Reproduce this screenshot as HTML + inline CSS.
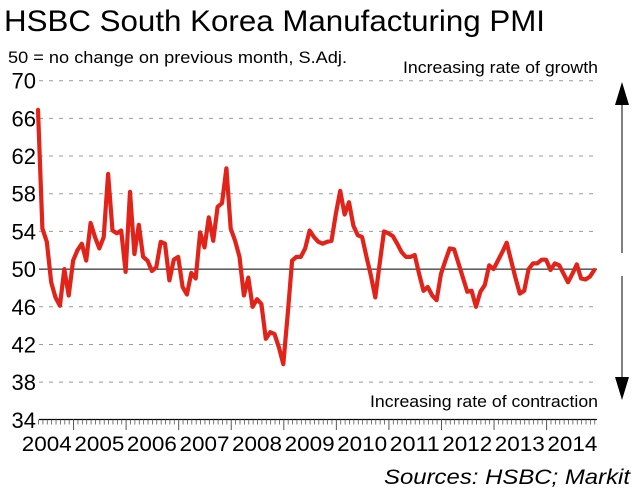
<!DOCTYPE html>
<html><head><meta charset="utf-8"><style>
html,body{margin:0;padding:0;background:#fff;}
svg{display:block;font-family:"Liberation Sans",Arial,sans-serif;}
</style></head><body>
<svg id="chart" width="640" height="496" viewBox="0 0 640 496" xmlns="http://www.w3.org/2000/svg">
<text x="4" y="31" font-size="30" textLength="541" lengthAdjust="spacingAndGlyphs" fill="#000">HSBC South Korea Manufacturing PMI</text>
<text x="8" y="63" font-size="17" textLength="339" lengthAdjust="spacingAndGlyphs" fill="#000">50 = no change on previous month, S.Adj.</text>
<text x="598" y="73" font-size="17" textLength="195" lengthAdjust="spacingAndGlyphs" text-anchor="end" fill="#000">Increasing rate of growth</text>
<text x="598" y="407" font-size="17" textLength="228" lengthAdjust="spacingAndGlyphs" text-anchor="end" fill="#000">Increasing rate of contraction</text>
<g>
<line x1="622" y1="100" x2="622" y2="253" stroke="#000" stroke-width="1"/>
<polygon points="615,105 629,105 622,82" fill="#000"/>
<line x1="622" y1="276" x2="622" y2="380" stroke="#000" stroke-width="1"/>
<polygon points="615,377 629,377 622,400" fill="#000"/>
</g>
<g id="grid"></g>
<g id="axes"></g>
<g id="series"></g>
<text x="630" y="484" font-size="21" font-style="italic" textLength="246" lengthAdjust="spacingAndGlyphs" text-anchor="end" fill="#000">Sources: HSBC; Markit</text>
</svg>
<script>
const yTicks = [34, 38, 42, 46, 50, 54, 58, 62, 66, 70];
const years = [2004, 2005, 2006, 2007, 2008, 2009, 2010, 2011, 2012, 2013, 2014];
const startMonthIndex = 4; // May 2004
const pmiValues = [
66.9,54.3,52.9,48.6,47.0,46.1,50.0,47.2,50.9,52.0,52.7,50.9,
54.9,53.4,52.2,53.4,60.1,54.1,53.8,54.1,49.7,58.2,51.6,54.7,
51.3,50.9,49.8,50.2,52.9,52.7,48.8,51.0,51.3,48.1,47.3,49.6,
49.0,53.9,52.3,55.5,53.0,56.6,57.0,60.7,54.3,53.0,51.3,47.2,
49.1,46.0,46.8,46.3,42.6,43.3,43.1,41.7,39.9,45.2,50.9,51.3,
51.3,52.2,54.1,53.4,52.9,52.7,52.9,53.0,55.9,58.3,55.8,57.1,
54.6,53.6,53.4,51.3,49.3,47.0,50.6,54.0,53.8,53.5,52.7,51.8,
51.3,51.3,51.5,49.5,47.7,48.1,47.2,46.7,49.5,50.9,52.2,52.1,
50.6,49.1,47.6,47.7,46.0,47.6,48.3,50.4,50.0,50.9,51.8,52.8,
50.9,49.1,47.4,47.7,50.0,50.6,50.6,51.0,51.0,49.9,50.6,50.4,
49.5,48.6,49.5,50.5,49.0,48.9,49.2,49.9
];
const NS="http://www.w3.org/2000/svg";
function xScale(m){return 20.5+m*4.38;}
function yScale(v){return 80.7+(70-v)*9.42;}
function mk(tag,attrs,parent){const e=document.createElementNS(NS,tag);for(const k in attrs)e.setAttribute(k,attrs[k]);parent.appendChild(e);return e;}
const grid=document.getElementById('grid'),axes=document.getElementById('axes'),series=document.getElementById('series');
const xL=39,xR=597;
yTicks.forEach(v=>{
  const y=yScale(v);
  if(v!==34&&v!==50){
    const g=mk('line',{x1:xL,x2:594,y1:y,y2:y,stroke:'#999','stroke-width':1,'stroke-dasharray':'4,6'},grid);
    
    
  }
  const t=mk('text',{x:36,y:y+8,'font-size':22,'text-anchor':'end',fill:'#000'},axes);
  t.textContent=v;
  
  
});
const base=mk('line',{x1:xL,x2:xR,y1:yScale(50),y2:yScale(50),stroke:'#000','stroke-width':1},grid);


const ax=mk('line',{x1:xL,x2:xR,y1:419.5,y2:419.5,stroke:'#000','stroke-width':1.2},axes);


for(let m=startMonthIndex;m<startMonthIndex+pmiValues.length;m++){
  const x=xScale(m)+0.5, major=(m%12===0);
  const tk=mk('line',{x1:x,x2:x,y1:419.5,y2:major?430:424.5,stroke:'#555','stroke-width':major?1:0.8},axes);
  
  
}
years.forEach((yr,i)=>{
  const cx=xScale(i*12+6);
  const t=mk('text',{x:cx,y:451,'font-size':21,'text-anchor':'middle',textLength:50,lengthAdjust:'spacingAndGlyphs',fill:'#000'},axes);
  t.textContent=yr;
  
  
});
const pts=pmiValues.map((v,i)=>xScale(startMonthIndex+i).toFixed(1)+','+yScale(v).toFixed(1)).join(' ');
const line=mk('polyline',{points:pts,fill:'none',stroke:'#e2231a','stroke-width':4.2,'stroke-linejoin':'round','stroke-linecap':'round'},series);


</script>
</body></html>
